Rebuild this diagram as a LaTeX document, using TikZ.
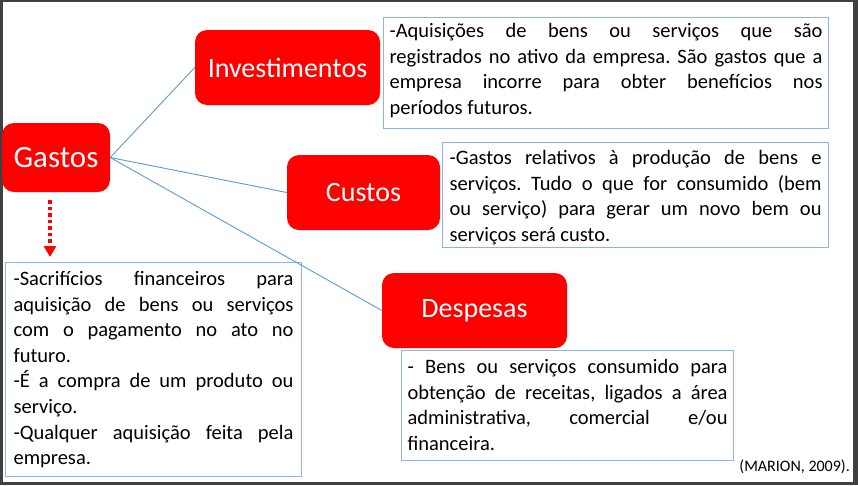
\documentclass[tikz,border=0pt]{standalone}
\usepackage{fontspec}
\setmainfont{Carlito}
\usetikzlibrary{arrows.meta}
\definecolor{framegray}{RGB}{64,64,64}
\definecolor{boxred}{RGB}{255,0,0}
\definecolor{linkblue}{RGB}{91,155,213}
\definecolor{descblue}{RGB}{141,180,226}
\newcommand{\jline}[1]{\hbox to \linewidth{\strut #1}}
\newcommand{\lline}[1]{\hbox{\strut #1}}
\frenchspacing
\begin{document}
\begin{tikzpicture}[x=1pt,y=-1pt,
  redbox/.style={fill=boxred, draw=none, rounded corners=12pt, text=white, inner sep=0pt, align=center},
  bigfont/.style={font=\fontsize{28}{33}\selectfont},
  descbox/.style={draw=descblue, line width=1.1pt, fill=white, anchor=north west, inner sep=0pt, font=\fontsize{20.5}{25.6}\selectfont\frenchspacing},
  link/.style={draw=linkblue, line width=0.9pt},
  dotarrow/.style={draw=boxred, line width=3.5pt, dash pattern=on 3.5pt off 3pt, -{Triangle[width=12pt,length=11pt]}}
]
\useasboundingbox (0,0) rectangle (858,485);
\fill[framegray] (0,0) rectangle (858,485);
\fill[white] (3,2) rectangle (853,482);

% red boxes
\node[redbox, minimum width=108pt, minimum height=69pt, font=\fontsize{31}{36}\selectfont] (gastos) at (56,157.5) {Gastos};
\node[redbox, bigfont, minimum width=185pt, minimum height=75pt] (inv) at (287.5,67.5) {Investimentos};
\node[redbox, bigfont, minimum width=153pt, minimum height=75pt] (cus) at (363.5,192.5) {Custos};
\node[redbox, bigfont, minimum width=185pt, minimum height=75pt] (des) at (474.5,310.5) {Despesas};

% description boxes
\node[descbox, inner xsep=6pt, inner ysep=2pt] (invd) at (383,17) {\parbox[c][107pt][t]{433pt}{%
\jline{-Aquisições de bens ou serviços que são}
\jline{registrados no ativo da empresa. São gastos que a}
\jline{empresa incorre para obter benefícios nos}
\lline{períodos futuros.}}};

\node[descbox, inner xsep=7pt, inner ysep=4pt] (cusd) at (442,142) {\parbox[c][97pt][t]{372pt}{%
\jline{-Gastos relativos à produção de bens e}
\jline{serviços. Tudo o que for consumido (bem}
\jline{ou serviço) para gerar um novo bem ou}
\lline{serviços será custo.}}};

\node[descbox, inner xsep=6pt, inner ysep=5pt] (desd) at (401,350) {\parbox[c][100pt][t]{320pt}{%
\jline{- Bens ou serviços consumido para}
\jline{obtenção de receitas, ligados a área}
\jline{administrativa, comercial e/ou}
\lline{financeira.}}};

\node[descbox, inner xsep=8pt, inner ysep=5pt] (gasd) at (5,262) {\parbox[c][204pt][t]{280pt}{%
\jline{-Sacrifícios financeiros para}
\jline{aquisição de bens ou serviços}
\jline{com o pagamento no ato no}
\lline{futuro.}
\jline{-É a compra de um produto ou}
\lline{serviço.}
\jline{-Qualquer aquisição feita pela}
\lline{empresa.}}};

% connectors
\draw[link] (gastos.east) -- (inv.west);
\draw[link] (gastos.east) -- (cus.west);
\draw[link] (gastos.east) -- (des.west);

\coordinate (arrs) at (50,200);
\coordinate (arre) at (50,257);
\draw[dotarrow] (arrs) -- (arre);

\node[anchor=east, inner sep=0pt, font=\fontsize{16}{19}\selectfont] (ref) at (850,467) {(MARION, 2009).};
\end{tikzpicture}
\end{document}
